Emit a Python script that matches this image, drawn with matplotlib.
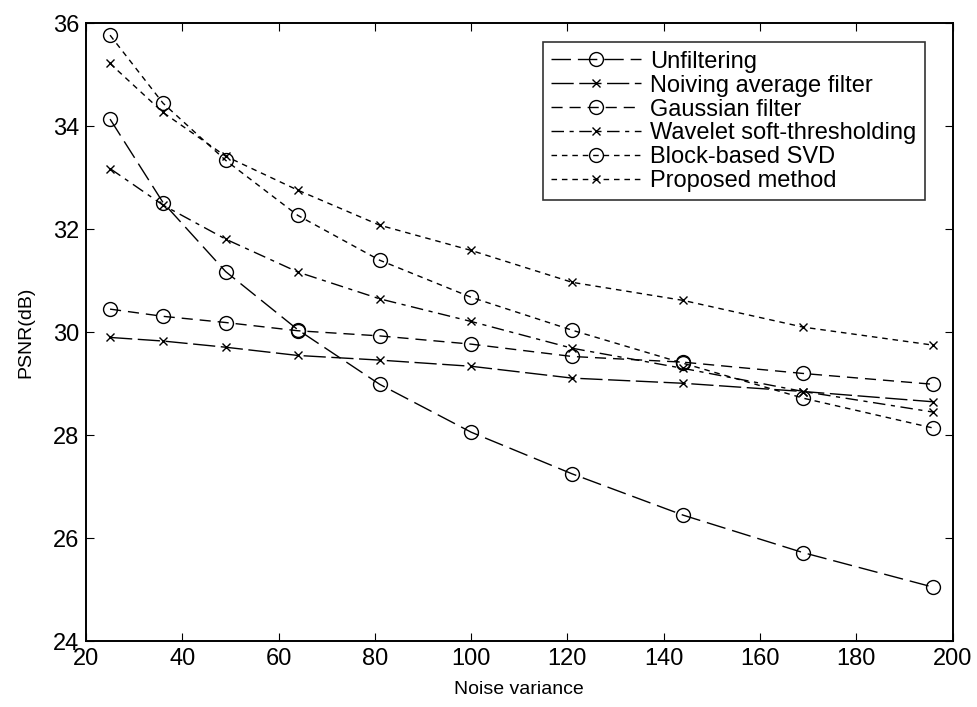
import numpy as np
import matplotlib
matplotlib.use('Agg')
import matplotlib.pyplot as plt

plt.rcParams['font.family'] = ['Liberation Sans', 'DejaVu Sans']

noise_var = [25, 36, 49, 64, 81, 100, 121, 144, 169, 196]

unfiltering = [34.14, 32.52, 31.18, 30.05, 28.99, 28.06, 27.25, 26.45, 25.72, 25.05]
noiving_avg = [29.90, 29.83, 29.71, 29.55, 29.46, 29.34, 29.11, 29.01, 28.85, 28.65]
gaussian = [30.45, 30.31, 30.19, 30.03, 29.93, 29.77, 29.53, 29.42, 29.20, 28.99]
wavelet = [33.18, 32.47, 31.81, 31.17, 30.65, 30.21, 29.69, 29.30, 28.85, 28.45]
block_svd = [35.77, 34.45, 33.34, 32.27, 31.40, 30.68, 30.04, 29.40, 28.72, 28.14]
proposed = [35.22, 34.27, 33.42, 32.76, 32.08, 31.59, 30.97, 30.62, 30.10, 29.75]

fig = plt.figure(figsize=(9.77, 7.07), dpi=100)
ax = fig.add_axes([0.088, 0.093, 0.887, 0.874])

lw = 1.0
ax.plot(noise_var, unfiltering, color='black', lw=lw, dashes=(14, 5), marker='o',
        mfc='none', mec='black', ms=10, label='Unfiltering')
ax.plot(noise_var, noiving_avg, color='black', lw=lw, dashes=(16, 4), marker='x',
        mec='black', ms=6, label='Noiving average filter')
ax.plot(noise_var, gaussian, color='black', lw=lw, dashes=(8, 5), marker='o',
        mfc='none', mec='black', ms=10, label='Gaussian filter')
ax.plot(noise_var, wavelet, color='black', lw=lw, dashes=(9, 4, 3, 4), marker='x',
        mec='black', ms=6, label='Wavelet soft-thresholding')
ax.plot(noise_var, block_svd, color='black', lw=lw, dashes=(4, 3.5), marker='o',
        mfc='none', mec='black', ms=10, label='Block-based SVD')
ax.plot(noise_var, proposed, color='black', lw=lw, dashes=(4, 3.5), marker='x',
        mec='black', ms=6, label='Proposed method')

ax.set_xlim(20, 200)
ax.set_ylim(24, 36)
ax.set_xticks(np.arange(20, 201, 20))
ax.set_yticks(np.arange(24, 37, 2))
ax.tick_params(direction='in', top=True, right=True, length=6, labelsize=17, pad=5)
for s in ax.spines.values():
    s.set_linewidth(1.4)

ax.set_xlabel('Noise variance', fontsize=14, labelpad=8)
ax.set_ylabel('PSNR(dB)', fontsize=14, labelpad=13)

leg = ax.legend(loc='upper right', bbox_to_anchor=(0.968, 0.969), fontsize=17,
                frameon=True, fancybox=False, edgecolor='black', handlelength=3.8,
                handletextpad=0.4, labelspacing=0.08, borderpad=0.35,
                borderaxespad=0.0)
leg.get_frame().set_linewidth(1.2)

fig.savefig('out.png', dpi=100)
